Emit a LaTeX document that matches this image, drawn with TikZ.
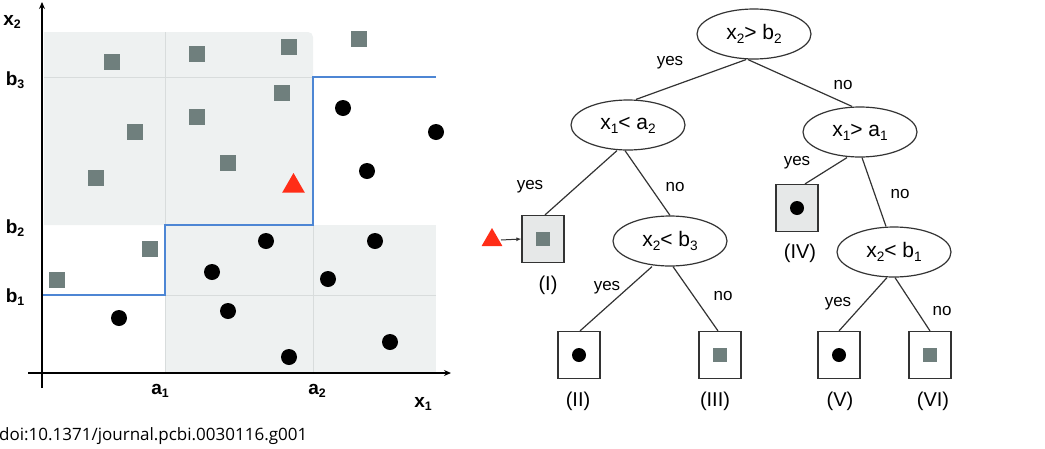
\documentclass[tikz,border=0pt]{standalone}
\usepackage{fontspec}
\setmainfont{Liberation Sans}
\newfontfamily\doifont{Open Sans}
\usetikzlibrary{shapes.geometric,arrows.meta,calc}
\definecolor{regioncol}{HTML}{EEF1F1}
\definecolor{gridc}{HTML}{D8DCDC}
\definecolor{bluel}{HTML}{4D86D4}
\definecolor{sqg}{HTML}{6F7F7D}
\definecolor{redt}{HTML}{FF2D17}
\definecolor{leaffill}{HTML}{E6E8E8}
\definecolor{treeline}{HTML}{333333}
\newcommand{\mysub}[1]{\raisebox{-0.35ex}{\scalebox{0.65}{#1}}}
\tikzset{
  sq/.style={rectangle, fill=sqg, minimum size=16pt, inner sep=0pt},
  blackdot/.style={circle, fill=black, minimum size=16pt, inner sep=0pt},
  smallsq/.style={rectangle, fill=sqg, minimum size=14pt, inner sep=0pt},
  smalldot/.style={circle, fill=black, minimum size=14pt, inner sep=0pt},
  testnode/.style={ellipse, draw=treeline, line width=1.2pt, minimum width=114pt, minimum height=50pt, inner sep=0pt, font=\fontsize{21}{21}\selectfont},
  leaf/.style={rectangle, draw=treeline, line width=1.2pt, minimum width=42pt, minimum height=47pt, inner sep=0pt},
  edge/.style={draw=treeline, line width=1.2pt},
  edgelab/.style={font=\fontsize{17}{17}\selectfont, inner sep=0pt},
  leaflab/.style={font=\fontsize{20}{20}\selectfont, inner sep=0pt},
  axlab/.style={font=\bfseries\fontsize{19}{19}\selectfont, inner sep=0pt},
}
\begin{document}
\begin{tikzpicture}[x=1pt,y=-1pt]
\useasboundingbox (0,0) rectangle (1045,448);
% ---- left plot ----
\fill[regioncol] (44,225) -- (44,32) [rounded corners=5pt] -- (313,32) [sharp corners] -- (313,225) -- cycle;
\fill[regioncol] (165,225) rectangle (436,372);
\draw[gridc, line width=1pt] (165,32) -- (165,372);
\draw[gridc, line width=1pt] (313,225) -- (313,372);
\draw[gridc, line width=1pt] (44,77) -- (313,77);
\draw[gridc, line width=1pt] (165,295) -- (436,295);
\draw[bluel, line width=1.6pt] (43,295) -- (165,295) -- (165,225) -- (313,225) -- (313,77) -- (436,77);
\draw[line width=1.6pt, -{Stealth[length=7pt,width=6pt]}] (42,388) -- (42,2);
\draw[line width=1.6pt, -{Stealth[length=7pt,width=6pt]}] (28,373) -- (451,373);
\node[axlab] (lx2) at (12,22) {x\mysub{2}};
\node[axlab] (lb3) at (15,80) {b\mysub{3}};
\node[axlab] (lb2) at (15,228) {b\mysub{2}};
\node[axlab] (lb1) at (15,297) {b\mysub{1}};
\node[axlab] (la1) at (160,391) {a\mysub{1}};
\node[axlab] (la2) at (317,391) {a\mysub{2}};
\node[axlab] (lx1) at (423,404) {x\mysub{1}};
\foreach \px/\py [count=\i] in {112/62,197/54,289/47,359/39,282/93,197/117,135/132,228/163,96/178,150/249,57/280}
  \node[sq] (s\i) at (\px,\py) {};
\foreach \px/\py [count=\i] in {343/108,436/132,367/171,266/241,375/241,212/272,328/279,119/318,228/311,390/342,289/357}
  \node[blackdot] (c\i) at (\px,\py) {};
\node[regular polygon, regular polygon sides=3, fill=redt, minimum size=26pt, inner sep=0pt] (tri1) at (293.5,186) {};
\node[anchor=west, font=\doifont\fontsize{17}{17}\selectfont, inner sep=0pt] (doi) at (-1,436) {doi:10.1371/journal.pcbi.0030116.g001};
% ---- tree ----
\node[testnode] (root) at (754,34) {x\mysub{2}> b\mysub{2}};
\node[testnode] (t1) at (628,125) {x\mysub{1}< a\mysub{2}};
\node[testnode] (t2) at (860,132) {x\mysub{1}> a\mysub{1}};
\node[testnode] (t3) at (670,241) {x\mysub{2}< b\mysub{3}};
\node[testnode] (t4) at (894,252) {x\mysub{2}< b\mysub{1}};
\node[leaf, fill=leaffill] (L1) at (543,239) {};
\node[leaf, fill=leaffill] (L4) at (797,208) {};
\node[leaf] (L2) at (579,355) {};
\node[leaf] (L3) at (720,355) {};
\node[leaf] (L5) at (839,355) {};
\node[leaf] (L6) at (930,355) {};
\node[smallsq] (m1) at (L1.center) {};
\node[smalldot] (m4) at (L4.center) {};
\node[smalldot] (m2) at (L2.center) {};
\node[smallsq] (m3) at (L3.center) {};
\node[smalldot] (m5) at (L5.center) {};
\node[smallsq] (m6) at (L6.center) {};
\node[leaflab] (n1) at (548,285) {(I)};
\node[leaflab] (n4) at (800,253) {(IV)};
\node[leaflab] (n2) at (578,401) {(II)};
\node[leaflab] (n3) at (715,401) {(III)};
\node[leaflab] (n5) at (840,401) {(V)};
\node[leaflab] (n6) at (933,401) {(VI)};
\draw[edge] ($(root.south)+(-8,0)$) -- ($(t1.north)+(8,0)$);
\draw[edge] ($(root.south)+(-6,0)$) -- ($(t2.north)+(-8,0)$);
\draw[edge] ($(t1.south)+(-11,0)$) -- ($(L1.north)+(2,0)$);
\draw[edge] ($(t1.south)+(-3,0)$) -- (t3.north);
\draw[edge] ($(t2.south)+(-13,0)$) -- ($(L4.north)+(8,0)$);
\draw[edge] ($(t2.south)+(2,0)$) -- ($(t4.north)+(-8,0)$);
\draw[edge] ($(t3.south)+(-18,0)$) -- ($(L2.north)+(1,0)$);
\draw[edge] ($(t3.south)+(3,0)$) -- ($(L3.north)+(-2,0)$);
\draw[edge] ($(t4.south)+(-7,0)$) -- (L5.north);
\draw[edge] ($(t4.south)+(1,0)$) -- (L6.north);
\node[edgelab] (e1) at (670,63) {yes};
\node[edgelab] (e2) at (843,85) {no};
\node[edgelab] (e3) at (530,187) {yes};
\node[edgelab] (e4) at (675,187) {no};
\node[edgelab] (e5) at (797,163) {yes};
\node[edgelab] (e6) at (900,194) {no};
\node[edgelab] (e7) at (607,288) {yes};
\node[edgelab] (e8) at (723,296) {no};
\node[edgelab] (e9) at (838,304) {yes};
\node[edgelab] (e10) at (942,311) {no};
\node[regular polygon, regular polygon sides=3, fill=redt, minimum size=24pt, inner sep=0pt] (tri2) at (492,240) {};
\draw[treeline, line width=1pt, -{Latex[length=5pt,width=4pt]}] ($(tri2.center)+(9,0)$) -- (L1.west);
\end{tikzpicture}
\end{document}
